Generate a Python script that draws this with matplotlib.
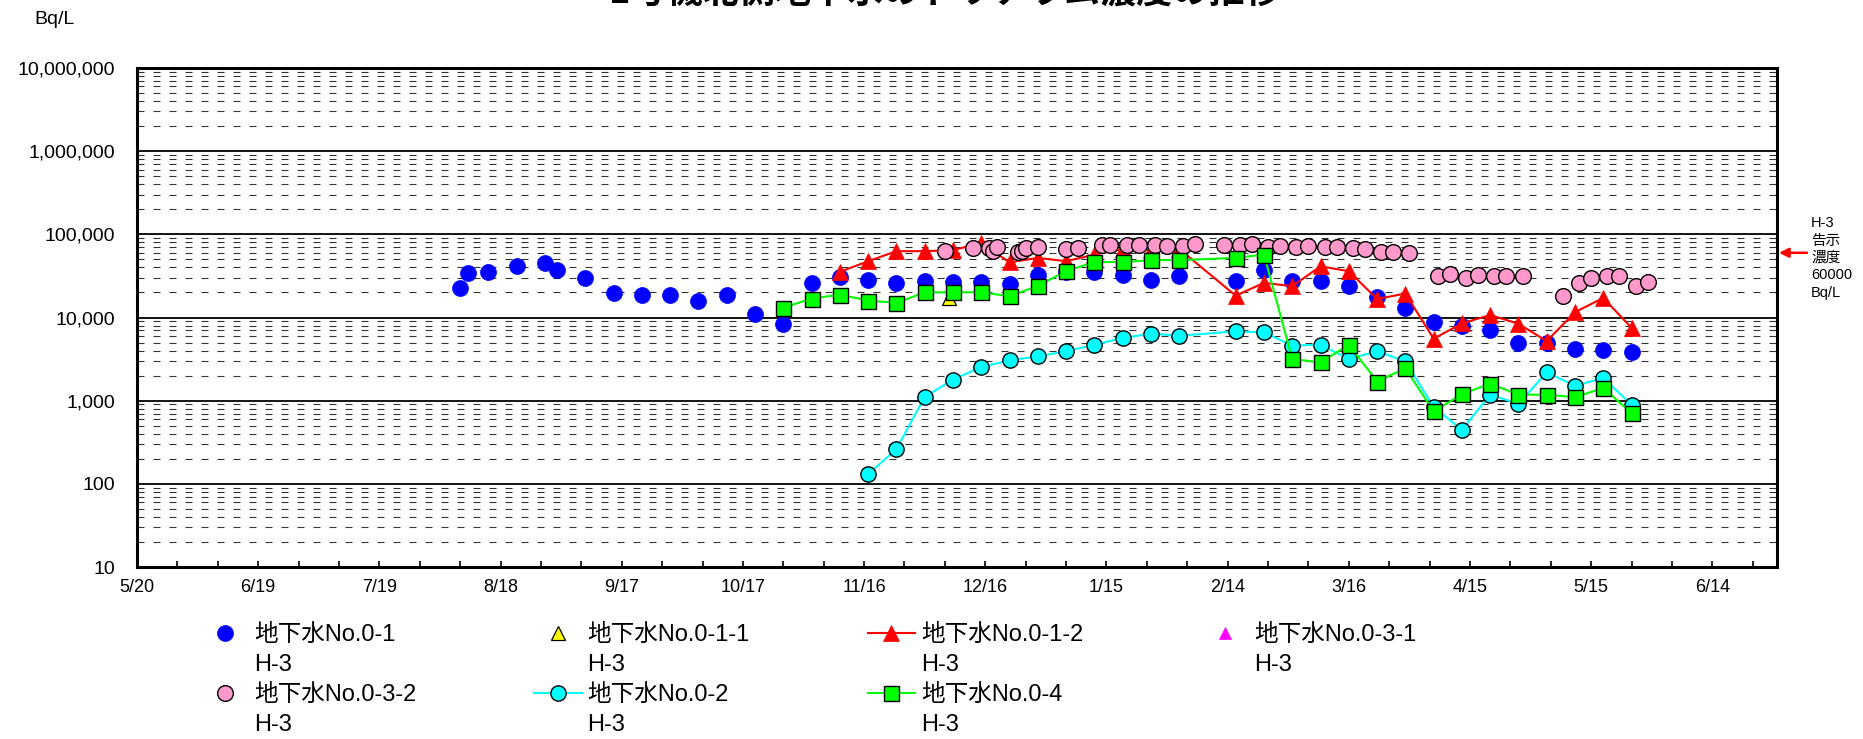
import matplotlib
matplotlib.use('Agg')
import matplotlib.pyplot as plt
import matplotlib.dates as mdates
from matplotlib.ticker import FixedLocator, NullFormatter, FuncFormatter, LogLocator
from matplotlib.transforms import IdentityTransform
import pandas as pd

FONT = ['Liberation Sans', 'Noto Sans CJK JP', 'DejaVu Sans']
plt.rcParams['font.family'] = FONT

# ---------------- text ----------------
title = "1号機北側地下水のトリチウム濃度の推移"
unit_label = "Bq/L"
nuclide = "H-3"
limit_value = 60000
limit_text = "H-3\n告示\n濃度\n60000\nBq/L"

# ---------------- axes ranges / ticks ----------------
x_start = "2013-05-20"
x_end = "2014-06-30"
y_ticks = [10, 100, 1000, 10000, 100000, 1000000, 10000000]

# ---------------- data ----------------
no01_dates = ["2013-08-08", "2013-08-10", "2013-08-15", "2013-08-22", "2013-08-29",
              "2013-09-01", "2013-09-08", "2013-09-15", "2013-09-22", "2013-09-29",
              "2013-10-06", "2013-10-13", "2013-10-20", "2013-10-27",
              "2013-11-03", "2013-11-10", "2013-11-17", "2013-11-24",
              "2013-12-01", "2013-12-08", "2013-12-15", "2013-12-22", "2013-12-29",
              "2014-01-05", "2014-01-12", "2014-01-19", "2014-01-26",
              "2014-02-02", "2014-02-16", "2014-02-23",
              "2014-03-02", "2014-03-09", "2014-03-16", "2014-03-23", "2014-03-30",
              "2014-04-06", "2014-04-13", "2014-04-20", "2014-04-27",
              "2014-05-04", "2014-05-11", "2014-05-18", "2014-05-25"]
no01_vals = [22700, 34400, 35000, 42100, 45400,
             37700, 29900, 19900, 18800, 18800,
             16000, 18800, 11000, 8400,
             26300, 31000, 27900, 26100,
             27800, 26800, 27000, 25300, 32300,
             35000, 35000, 32800, 28600,
             31900, 27800, 37700,
             27300, 27300, 24200, 17500, 13000,
             8750, 7980, 7000, 5000,
             4940, 4150, 4020, 3800]

no011_dates = ["2013-12-07"]
no011_vals = [17200]

no012_dates = ["2013-11-10", "2013-11-17", "2013-11-24",
               "2013-12-01", "2013-12-08", "2013-12-15", "2013-12-22", "2013-12-29",
               "2014-01-05", "2014-01-12", "2014-01-19", "2014-01-26",
               "2014-02-02", "2014-02-16", "2014-02-23",
               "2014-03-02", "2014-03-09", "2014-03-16", "2014-03-23", "2014-03-30",
               "2014-04-06", "2014-04-13", "2014-04-20", "2014-04-27",
               "2014-05-04", "2014-05-11", "2014-05-18", "2014-05-25"]
no012_vals = [35400, 47500, 62700,
              62700, 64400, 79000, 46000, 52100,
              47500, 57000, 66800, 65600,
              66800, 18300, 26100,
              23800, 41300, 36000, 16700, 19400,
              5560, 8500, 10700, 8400,
              5200, 11600, 17200, 7480]

no031_dates = []
no031_vals = []

no032_dates = ["2013-12-06", "2013-12-13", "2013-12-17", "2013-12-18", "2013-12-19",
               "2013-12-24", "2013-12-25", "2013-12-26", "2013-12-29",
               "2014-01-05", "2014-01-08", "2014-01-14", "2014-01-16", "2014-01-20",
               "2014-01-23", "2014-01-27", "2014-01-30",
               "2014-02-03", "2014-02-06", "2014-02-13", "2014-02-17", "2014-02-20",
               "2014-02-24", "2014-02-27",
               "2014-03-03", "2014-03-06", "2014-03-10", "2014-03-13", "2014-03-17",
               "2014-03-20", "2014-03-24", "2014-03-27", "2014-03-31",
               "2014-04-07", "2014-04-10", "2014-04-14", "2014-04-17", "2014-04-21",
               "2014-04-24", "2014-04-28",
               "2014-05-08", "2014-05-12", "2014-05-15", "2014-05-19", "2014-05-22",
               "2014-05-26", "2014-05-29"]
no032_vals = [62700, 68800, 69000, 62700, 70000,
              60700, 63000, 68800, 70000,
              66000, 68800, 74000, 74000, 74000,
              74000, 74000, 72000,
              72000, 76900, 74000, 74000, 76900,
              70000, 72000,
              70000, 73000, 70000, 70000, 68800,
              66800, 61500, 61500, 59800,
              31600, 33100, 29900, 32500, 31900,
              31600, 31600,
              18000, 26100, 29900, 31600, 31600,
              23800, 27000]

no02_dates = ["2013-11-17", "2013-11-24",
              "2013-12-01", "2013-12-08", "2013-12-15", "2013-12-22", "2013-12-29",
              "2014-01-05", "2014-01-12", "2014-01-19", "2014-01-26",
              "2014-02-02", "2014-02-16", "2014-02-23",
              "2014-03-02", "2014-03-09", "2014-03-16", "2014-03-23", "2014-03-30",
              "2014-04-06", "2014-04-13", "2014-04-20", "2014-04-27",
              "2014-05-04", "2014-05-11", "2014-05-18", "2014-05-25"]
no02_vals = [131, 261,
             1110, 1790, 2540, 3050, 3410,
             3920, 4710, 5670, 6390,
             6040, 6810, 6620,
             4580, 4710, 3170, 3920, 2970,
             837, 447, 1180, 918,
             2190, 1510, 1870, 893]

no04_dates = ["2013-10-27", "2013-11-03", "2013-11-10", "2013-11-17", "2013-11-24",
              "2013-12-01", "2013-12-08", "2013-12-15", "2013-12-22", "2013-12-29",
              "2014-01-05", "2014-01-12", "2014-01-19", "2014-01-26",
              "2014-02-02", "2014-02-16", "2014-02-23",
              "2014-03-02", "2014-03-09", "2014-03-16", "2014-03-23", "2014-03-30",
              "2014-04-06", "2014-04-13", "2014-04-20", "2014-04-27",
              "2014-05-04", "2014-05-11", "2014-05-18", "2014-05-25"]
no04_vals = [13100, 16900, 18800, 16000, 15000,
             20000, 20100, 20100, 18000, 24000,
             36000, 46500, 46200, 48900,
             48900, 52100, 57100,
             3170, 2880, 4710, 1700, 2450,
             741, 1200, 1600, 1180,
             1180, 1100, 1420, 708]

series_labels = ["地下水No.0-1", "地下水No.0-1-1", "地下水No.0-1-2", "地下水No.0-3-1",
                 "地下水No.0-3-2", "地下水No.0-2", "地下水No.0-4"]

# ---------------- figure ----------------
W, H = 1863, 739
fig = plt.figure(figsize=(W / 100, H / 100), dpi=100)
ax = fig.add_axes([137 / W, 1 - 567 / H, 1640 / W, 499 / H])

styles = [
    dict(ls='none', marker='o', ms=11.5, mfc='#0000FF', mec='#0000FF', mew=0.5),
    dict(ls='none', marker='^', ms=10, mfc='#FFFF00', mec='black', mew=0.9),
    dict(ls='-', color='#FF0000', lw=1.5, marker='^', ms=11.3, mfc='#FF0000', mec='#FF0000', mew=0.5),
    dict(ls='none', marker='^', ms=9, mfc='#FF00FF', mec='#FF00FF', mew=0.5),
    dict(ls='none', marker='o', ms=11.3, mfc='#FF99CC', mec='black', mew=1.0),
    dict(ls='-', color='#00FFFF', lw=1.5, marker='o', ms=11, mfc='#00FFFF', mec='black', mew=1.0),
    dict(ls='-', color='#00FF00', lw=1.5, marker='s', ms=10.8, mfc='#00FF00', mec='black', mew=1.0),
]
datasets = [(no01_dates, no01_vals), (no011_dates, no011_vals), (no012_dates, no012_vals),
            (no031_dates, no031_vals), (no032_dates, no032_vals), (no02_dates, no02_vals),
            (no04_dates, no04_vals)]

handles = []
for (dts, vals), st, lab in zip(datasets, styles, series_labels):
    x = pd.to_datetime(dts) if len(dts) else []
    h, = ax.plot(x, vals, label=lab, clip_on=True, **st)
    handles.append(h)

ax.set_yscale('log')
ax.set_ylim(10, 1e7)
ax.set_xlim(pd.Timestamp(x_start), pd.Timestamp(x_end))

ax.yaxis.set_major_locator(FixedLocator(y_ticks))
ax.yaxis.set_major_formatter(FuncFormatter(lambda v, p: f"{int(round(v)):,}"))
ax.yaxis.set_minor_locator(LogLocator(base=10, subs=range(2, 10)))
ax.yaxis.set_minor_formatter(NullFormatter())

major_x = mdates.date2num(pd.date_range(x_start, periods=14, freq='30D'))
minor_x = mdates.date2num(pd.date_range(x_start, x_end, freq='10D'))
ax.xaxis.set_major_locator(FixedLocator(major_x))
ax.xaxis.set_minor_locator(FixedLocator(minor_x))
ax.xaxis.set_major_formatter(FuncFormatter(
    lambda v, p: f"{mdates.num2date(v).month}/{mdates.num2date(v).day}"))

ax.set_axisbelow(True)
ax.grid(which='major', axis='y', color='black', lw=1.3, ls='-')
ax.grid(which='minor', axis='y', color='#333333', lw=0.8, ls=(0, (6.3, 8.1)))

ax.tick_params(axis='x', which='both', direction='in', length=4, width=1.2,
               top=False, labelsize=13, pad=9)
ax.tick_params(axis='y', which='both', length=0, labelsize=14, pad=16)
for sp in ax.spines.values():
    sp.set_linewidth(2.2)

# limit annotation
ax.annotate('', xy=(1.0 + 2 / 1640, limit_value), xycoords=ax.get_yaxis_transform(),
            xytext=(1.0 + 30 / 1640, limit_value), textcoords=ax.get_yaxis_transform(),
            arrowprops=dict(arrowstyle='-|>', color='#FF0000', lw=1.8, mutation_scale=14,
                            shrinkA=0, shrinkB=0),
            annotation_clip=False)
fig.text(1811 / W, 1 - 258 / H, limit_text, ha='left', va='center', fontsize=10.5,
         linespacing=1.3)

fig.text(55 / W, 1 - 20 / H, unit_label, ha='center', va='center', fontsize=14)
fig.text(945 / W, 1 - 4 / H, title, ha='center', va='baseline', fontsize=26,
         fontweight='bold', family=['Noto Sans CJK JP', 'DejaVu Sans'])

# legend (4 columns, filled column-wise)
order = [0, 4, 1, 5, 2, 6, 3]
leg = fig.legend([handles[i] for i in order], [series_labels[i] for i in order],
                 ncol=4, loc='upper left', bbox_to_anchor=(201 / W, 1 - 624 / H),
                 frameon=False, prop={'family': FONT, 'size': 17}, numpoints=1,
                 handlelength=2.0, handletextpad=0.25, columnspacing=5.0,
                 labelspacing=1.62, borderpad=0, borderaxespad=0)
fig.canvas.draw()
renderer = fig.canvas.get_renderer()
for t in leg.get_texts():
    bb = t.get_window_extent(renderer)
    fig.text(bb.x0, bb.y0 - 8, nuclide, transform=IdentityTransform(),
             ha='left', va='top', fontsize=17)

fig.savefig('out.png', dpi=100)
